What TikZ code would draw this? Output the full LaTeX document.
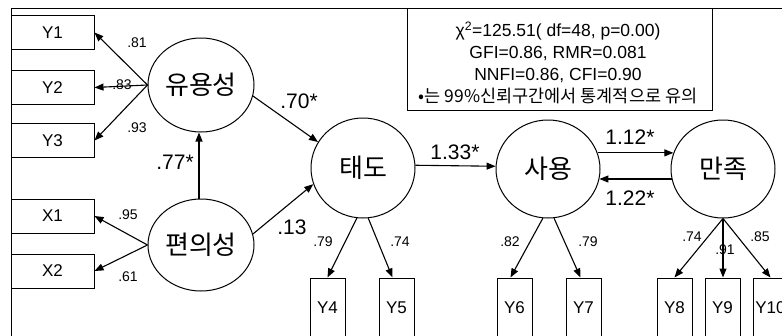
\documentclass[tikz,border=0pt]{standalone}
\usepackage{fontspec}
\setmainfont{Liberation Sans}
\newfontfamily\kr{Noto Sans CJK KR}
\usetikzlibrary{arrows.meta,shapes.geometric}
\begin{document}
\begin{tikzpicture}[x=1pt,y=-1pt,
  lat/.style={draw,ellipse,line width=1pt,inner sep=0pt,font=\kr\fontsize{26}{26}\selectfont},
  obsl/.style={draw,rectangle,line width=1pt,minimum width=83pt,minimum height=34pt,inner sep=0pt,font=\fontsize{17}{17}\selectfont},
  obsb/.style={draw,rectangle,line width=1pt,minimum width=35pt,minimum height=60pt,inner sep=0pt,font=\fontsize{17}{17}\selectfont},
  arr/.style={line width=1.1pt,-{Triangle[length=9pt,width=7pt]}},
  ld/.style={font=\fontsize{14}{14}\selectfont,inner sep=0pt},
  pl/.style={font=\fontsize{21}{21}\selectfont,inner sep=0pt}]
\useasboundingbox (0,0) rectangle (782,335);
\fill[white] (0,0) rectangle (782,335);
\begin{scope}
\clip (0,0) rectangle (782,335);
% frame
\draw[line width=1pt] (11,340) -- (11,8) -- (790,8);
% fit box
\node[draw,line width=1pt,minimum width=305pt,minimum height=102pt,inner sep=0pt] (fitbox) at (559.5,59) {};
\node[align=center,inner sep=0pt,font=\fontsize{17.5}{22}\selectfont] (fittext) at (558,63)
  {χ\textsuperscript{2}=125.51( df=48, p=0.00)\\GFI=0.86, RMR=0.081\\NNFI=0.86, CFI=0.90\\{\kr •는 99\%신뢰구간에서 통계적으로 유의}};
% latent variables
\node[lat,minimum width=106pt,minimum height=94pt] (uy) at (201,85) {유용성};
\node[lat,minimum width=106pt,minimum height=92pt] (pu) at (201,245) {편의성};
\node[lat,minimum width=104pt,minimum height=100pt] (td) at (363,168) {태도};
\node[lat,minimum width=104pt,minimum height=98pt] (sy) at (548,169) {사용};
\node[lat,minimum width=104pt,minimum height=98pt] (mj) at (723,169) {만족};
% observed
\node[obsl] (y1) at (52.5,32.5) {Y1};
\node[obsl] (y2) at (52.5,87.5) {Y2};
\node[obsl] (y3) at (52.5,140.5) {Y3};
\node[obsl] (x1) at (52.5,216) {X1};
\node[obsl] (x2) at (52.5,271) {X2};
\node[obsb] (y4) at (327.5,308) {Y4};
\node[obsb] (y5) at (396.5,308) {Y5};
\node[obsb] (y6) at (514.5,308) {Y6};
\node[obsb] (y7) at (583.5,308) {Y7};
\node[obsb] (y8) at (674.5,308) {Y8};
\node[obsb] (y9) at (722.5,308) {Y9};
\node[obsb] (y10) at (770.5,308) {Y10};
% connectors
\draw[arr] (uy.west) -- (y1.east);
\draw[arr] (uy.west) -- (y2.east);
\draw[arr] (uy.west) -- (y3.east);
\draw[arr] (pu.west) -- (x1.east);
\draw[arr] (pu.west) -- (x2.east);
\draw[arr] ([xshift=-2pt]pu.north) -- ([xshift=-2pt]uy.south);
\draw[arr] (uy.-12) -- (td.150);
\draw[arr] (pu.12) -- (td.198);
\draw[arr] (td.3) -- (sy.177);
\draw[arr] (sy.18) -- (mj.162);
\draw[arr] (mj.191) -- (sy.-11);
\draw[arr] (td.263) -- (y4.north);
\draw[arr] (td.276) -- ([xshift=-4pt]y5.north);
\draw[arr] (sy.264) -- ([xshift=-4pt]y6.north);
\draw[arr] (sy.277) -- ([xshift=-3pt]y7.north);
\draw[arr] (mj.south) -- (y8.north);
\draw[arr] (mj.south) -- (mj.south |- y9.north);
\draw[arr] (mj.south) -- (y10.north);
% loading labels
\node[ld] (l81) at (137,43) {.81};
\node[ld] (l83) at (122,85) {.83};
\node[ld] (l93) at (137,128) {.93};
\node[ld] (l95) at (128,215) {.95};
\node[ld] (l61) at (128,277) {.61};
\node[ld] (l79a) at (323,242) {.79};
\node[ld] (l74a) at (400,242) {.74};
\node[ld] (l82) at (510,242) {.82};
\node[ld] (l79b) at (588,242) {.79};
\node[ld] (l74b) at (692,237) {.74};
\node[ld] (l91) at (725,250) {.91};
\node[ld] (l85) at (760,237) {.85};
% path labels
\node[pl] (p77) at (175,162) {.77*};
\node[pl] (p70) at (299,101) {.70*};
\node[pl] (p13) at (292,227) {.13};
\node[pl] (p133) at (455,152) {1.33*};
\node[pl] (p112) at (630,137) {1.12*};
\node[pl] (p122) at (630,198) {1.22*};
\end{scope}
\end{tikzpicture}
\end{document}
